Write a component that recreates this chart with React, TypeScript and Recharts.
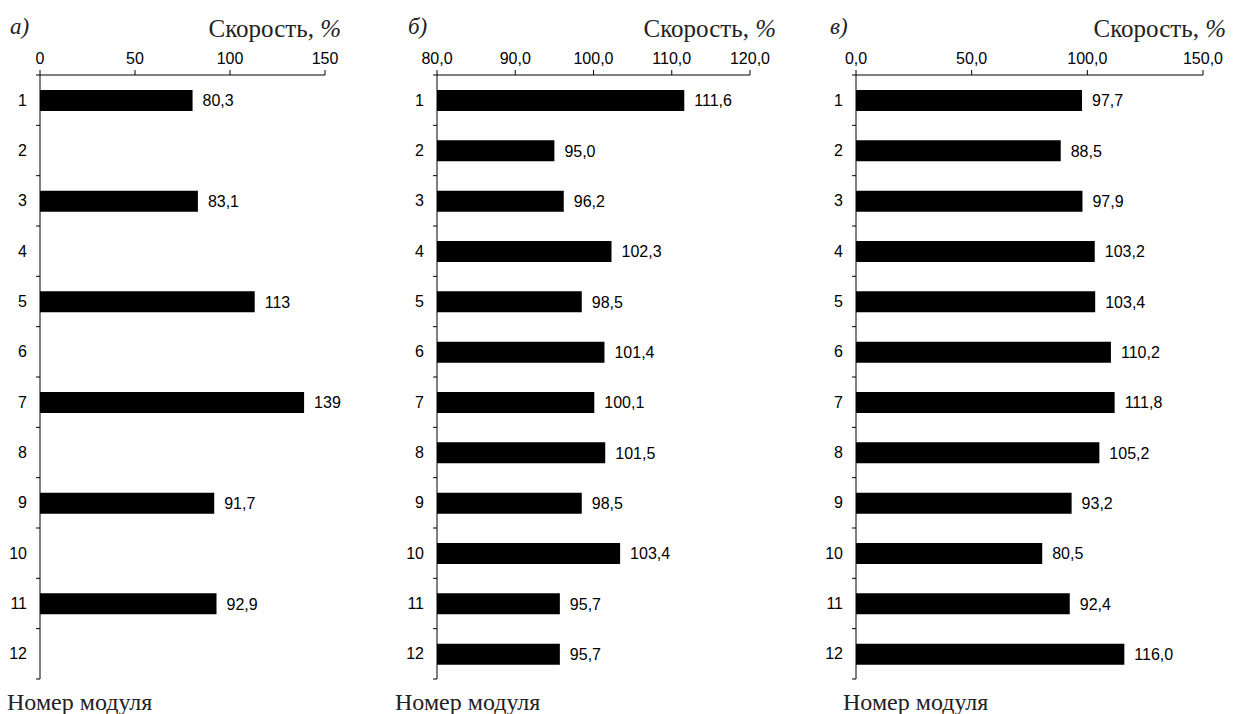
import React from 'react';
import { BarChart, Bar, XAxis, YAxis, LabelList } from 'recharts';

const modules = ['1', '2', '3', '4', '5', '6', '7', '8', '9', '10', '11', '12'];

// panel a – only odd modules measured
const speedA = [80.3, null, 83.1, null, 113, null, 139, null, 91.7, null, 92.9, null];
const speedB = [111.6, 95.0, 96.2, 102.3, 98.5, 101.4, 100.1, 101.5, 98.5, 103.4, 95.7, 95.7];
const speedC = [97.7, 88.5, 97.9, 103.2, 103.4, 110.2, 111.8, 105.2, 93.2, 80.5, 92.4, 116.0];

const ticksA = [0, 50, 100, 150];
const ticksB = [80, 90, 100, 110, 120];
const ticksC = [0, 50, 100, 150];

const SANS = '"Liberation Sans", Arimo, Arial, sans-serif';
const SERIF = '"Liberation Serif", Tinos, "Times New Roman", Times, "DejaVu Serif", serif';

const CHART_H = 714;
const M_TOP = 45;
const X_AXIS_H = 30;
const M_BOTTOM = 35;
const PLOT_H = CHART_H - M_TOP - X_AXIS_H - M_BOTTOM;
const BAND = PLOT_H / modules.length;
const TICK_GAP = 13;

const comma = (s: string) => s.replace('.', ',');

function ModuleTick(props: any) {
  const { x, y, payload, index } = props;
  const ax = x + TICK_GAP;
  return (
    <g>
      <text
        x={x}
        y={y}
        textAnchor="end"
        dominantBaseline="central"
        fontSize={16}
        fontFamily={SANS}
        fill="#000"
      >
        {payload.value}
      </text>
      <line x1={ax - 4} x2={ax} y1={y - BAND / 2} y2={y - BAND / 2} stroke="#000" />
      {index === modules.length - 1 && (
        <line x1={ax - 4} x2={ax} y1={y + BAND / 2} y2={y + BAND / 2} stroke="#000" />
      )}
    </g>
  );
}

interface PanelProps {
  left: number;
  width: number;
  yWidth: number;
  right: number;
  values: (number | null)[];
  ticks: number[];
  tickDigits: number;
  labelFmt: (v: number) => string;
  letter: string;
  titleRight: number;
  xlabelLeft: number;
  letterLeft: number;
}

function Panel({
  left,
  width,
  yWidth,
  right,
  values,
  ticks,
  tickDigits,
  labelFmt,
  letter,
  titleRight,
  xlabelLeft,
  letterLeft,
}: PanelProps) {
  const data = modules.map((m, i) => ({ module: m, v: values[i] }));
  const domain = [ticks[0], ticks[ticks.length - 1]];
  return (
    <>
      <div
        style={{
          position: 'absolute',
          left: letterLeft,
          top: 14,
          fontFamily: SERIF,
          fontStyle: 'italic',
          fontSize: 23,
          lineHeight: '26px',
          color: '#222',
        }}
      >
        {letter}
      </div>
      <div
        style={{
          position: 'absolute',
          right: 1236 - titleRight,
          top: 15,
          fontFamily: SERIF,
          fontSize: 25,
          lineHeight: '28px',
          color: '#222',
          whiteSpace: 'nowrap',
        }}
      >
        Скорость, <i>%</i>
      </div>
      <div
        style={{
          position: 'absolute',
          left: xlabelLeft,
          top: 688,
          fontFamily: SERIF,
          fontSize: 24,
          lineHeight: '28px',
          color: '#222',
          whiteSpace: 'nowrap',
        }}
      >
        Номер модуля
      </div>
      <div style={{ position: 'absolute', left, top: 0 }}>
        <BarChart
          width={width}
          height={CHART_H}
          data={data}
          layout="vertical"
          margin={{ top: M_TOP, right, bottom: M_BOTTOM, left: 0 }}
        >
          <XAxis
            type="number"
            orientation="top"
            domain={domain}
            ticks={ticks}
            interval={0}
            height={X_AXIS_H}
            tickSize={5}
            tickMargin={6}
            axisLine={{ stroke: '#000' }}
            tickLine={{ stroke: '#000' }}
            tick={{ fontSize: 16, fontFamily: SANS, fill: '#000' }}
            tickFormatter={(v: number) => comma(v.toFixed(tickDigits))}
            allowDataOverflow
          />
          <XAxis
            xAxisId="border"
            type="number"
            orientation="bottom"
            domain={[0, 1]}
            height={0}
            tick={false}
            tickLine={false}
            axisLine={{ stroke: '#999' }}
          />
          <YAxis
            type="category"
            dataKey="module"
            width={yWidth}
            tickSize={0}
            tickMargin={TICK_GAP}
            interval={0}
            axisLine={{ stroke: '#000' }}
            tick={<ModuleTick />}
          />
          <YAxis
            yAxisId="border"
            type="number"
            orientation="right"
            domain={[0, 1]}
            width={0}
            tick={false}
            tickLine={false}
            axisLine={{ stroke: '#999' }}
          />
          <Bar dataKey="v" fill="#000" barSize={21} isAnimationActive={false}>
            <LabelList
              dataKey="v"
              position="right"
              offset={10}
              fontSize={16}
              fontFamily={SANS}
              fill="#000"
              formatter={(v: any) => (v == null ? '' : labelFmt(v))}
            />
          </Bar>
        </BarChart>
      </div>
    </>
  );
}

export default function App() {
  return (
    <div
      style={{
        position: 'fixed',
        left: 0,
        top: 0,
        width: 1236,
        height: 714,
        background: '#fff',
        overflow: 'hidden',
      }}
    >
      <Panel
        left={0}
        width={360}
        yWidth={40}
        right={35}
        values={speedA}
        ticks={ticksA}
        tickDigits={0}
        labelFmt={(v) => comma(String(v))}
        letter="а)"
        letterLeft={10}
        titleRight={341}
        xlabelLeft={7}
      />
      <Panel
        left={380}
        width={400}
        yWidth={57}
        right={30}
        values={speedB}
        ticks={ticksB}
        tickDigits={1}
        labelFmt={(v) => comma(v.toFixed(1))}
        letter="б)"
        letterLeft={408}
        titleRight={776}
        xlabelLeft={395}
      />
      <Panel
        left={800}
        width={436}
        yWidth={56}
        right={33}
        values={speedC}
        ticks={ticksC}
        tickDigits={1}
        labelFmt={(v) => comma(v.toFixed(1))}
        letter="в)"
        letterLeft={830}
        titleRight={1226}
        xlabelLeft={843}
      />
    </div>
  );
}
